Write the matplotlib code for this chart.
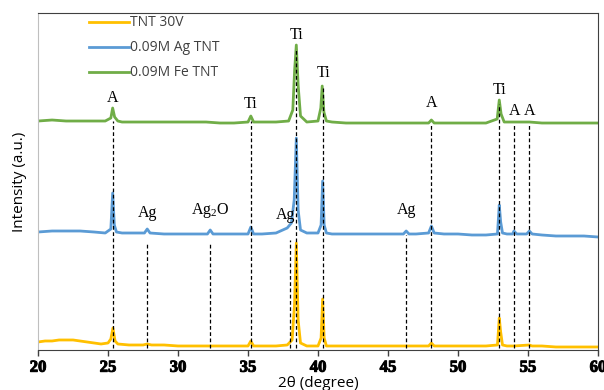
import numpy as np
import matplotlib.pyplot as plt
import matplotlib.patheffects as pe

plt.rcParams["mathtext.fontset"] = "custom"
plt.rcParams["mathtext.rm"] = "Liberation Serif"

# XRD patterns, stacked (a.u.)
tth_tnt = [20, 20.5, 21, 21.5, 22, 22.5, 23, 23.5, 24, 24.5, 25.0, 25.2, 25.35, 25.5, 25.7,
           26.5, 27.5, 27.8, 28.1, 29, 30, 31, 32, 33, 34, 35.0, 35.2, 35.4, 36, 37, 37.8,
           38.15, 38.32, 38.45, 38.58, 38.75, 39.2, 40.0, 40.22, 40.33, 40.44, 40.6, 41, 42, 43,
           44, 45, 46, 47, 47.9, 48.1, 48.3, 49, 50, 51, 52, 52.82, 52.95, 53.05, 53.18, 53.5,
           54, 55.1, 55.3, 56, 57, 58, 59, 60]
int_tnt = [8, 9, 9, 10, 10, 10, 9, 8, 7, 6, 7, 11, 22, 9, 6,
           5, 5, 6, 5, 5, 4, 4, 4, 4, 4, 4, 9, 4, 4, 4, 5,
           10, 45, 107, 30, 7, 4, 4, 12, 51, 12, 4, 4, 4, 4,
           4, 4, 4, 4, 4, 7, 4, 4, 4, 4, 4, 5, 32, 18, 5, 4,
           4, 5, 4, 4, 3, 3, 3, 3]

tth_ag = [20, 21, 22, 23, 24, 24.8, 25.2, 25.33, 25.45, 25.6, 26, 27, 27.6, 27.8, 28.0, 29,
          30, 31, 32.1, 32.3, 32.5, 33, 34, 35.0, 35.2, 35.4, 36, 37, 37.8, 38.1, 38.3,
          38.45, 38.58, 38.75, 39.2, 40.0, 40.22, 40.33, 40.44, 40.6, 41, 42, 43, 44, 45,
          46.1, 46.3, 46.5, 47, 47.9, 48.1, 48.3, 49, 50, 51, 52, 52.82, 52.95, 53.05, 53.18,
          53.5, 53.9, 54.0, 54.2, 54.9, 55.1, 55.3, 56, 57, 58, 59, 60]
int_ag = [118, 119, 119, 119, 118, 117, 121, 157, 125, 118, 117, 117, 117, 121, 117, 116,
          116, 116, 116, 120, 116, 116, 116, 116, 123, 116, 116, 117, 122, 127, 150,
          212, 140, 120, 117, 117, 125, 169, 125, 117, 116, 116, 116, 116, 116,
          116, 119, 116, 116, 117, 124, 117, 116, 116, 115, 115, 116, 145, 128, 117,
          116, 116, 119, 116, 116, 119, 116, 115, 114, 114, 114, 113]

tth_fe = [20, 21, 22, 23, 24, 24.8, 25.2, 25.33, 25.47, 25.7, 26, 27, 28, 29, 30, 31, 32,
          33, 34, 35.0, 35.2, 35.4, 36, 37, 37.9, 38.2, 38.33, 38.45, 38.58, 38.75, 39.2,
          40.0, 40.2, 40.3, 40.42, 40.6, 41, 42, 43, 44, 45, 46, 47, 47.9, 48.1, 48.3,
          49, 50, 51, 52, 52.8, 52.95, 53.08, 53.3, 54, 55.1, 56, 57, 58, 59, 60]
int_fe = [229, 230, 229, 229, 229, 229, 232, 242, 233, 229, 228, 228, 228, 228, 228, 228, 228,
          227, 227, 228, 234, 228, 228, 228, 229, 240, 280, 305, 265, 234, 228,
          229, 242, 264, 238, 229, 228, 227, 227, 227, 227, 227, 227, 227, 230, 227,
          227, 227, 227, 227, 231, 250, 236, 228, 228, 228, 227, 227, 227, 227, 227]

series = ["TNT 30V", "0.09M Ag TNT", "0.09M Fe TNT"]
colors = ["#FFC000", "#5B9BD5", "#70AD47"]

# reference lines: position, top of line, label, label height
ref_pos = [25.35, 27.8, 32.3, 35.2, 38.0, 38.45, 40.33, 46.3, 48.1, 52.95, 54.0, 55.1]
ref_top = [229, 108, 108, 229, 110, 300, 262, 115, 227, 246, 227, 227]
lbl_x = [25.35, 27.8, 32.3, 35.2, 37.65, 38.45, 40.4, 46.3, 48.1, 52.95, 54.05, 55.15]
lbl_y = [252, 137, 140, 246, 135, 315, 277, 140, 247, 260, 239, 239]
lbl_txt = ["A", "Ag", "Ag$_2$O", "Ti", "Ag", "Ti", "Ti", "Ag", "A", "Ti", "A", "A"]

fig = plt.figure(figsize=(6.04, 3.90), dpi=100)
ax = fig.add_axes([0.063, 0.1026, 0.927, 0.864])

for x, y, name, c in zip([tth_tnt, tth_ag, tth_fe], [int_tnt, int_ag, int_fe], series, colors):
    ax.plot(x, y, color=c, lw=2.0, label=name, solid_joinstyle="round")

ax.vlines(ref_pos, 2, ref_top, colors="black", linestyles=(0, (3, 2)), lw=0.9, zorder=3)
for x, y, t in zip(lbl_x, lbl_y, lbl_txt):
    ax.text(x, y, t, ha="center", va="center", fontsize=11.5, family="Liberation Serif",
            color="black")

ax.set_xlim(20, 60)
ax.set_ylim(0, 337)
xt = np.arange(20, 61, 5)
ax.set_xticks(xt, labels=[str(v) for v in xt], fontfamily="Liberation Serif",
              fontweight="bold", fontsize=12)
for lab in ax.get_xticklabels():
    lab.set_path_effects([pe.withStroke(linewidth=0.7, foreground="black")])
ax.set_yticks([])
ax.tick_params(axis="x", direction="out", length=4, width=1, color="#404040", pad=3)
ax.set_xlabel("2θ (degree)", fontsize=11, family="Open Sans", labelpad=0)
ax.set_ylabel("Intensity (a.u.)", fontsize=11, family="Open Sans", labelpad=8)

ax.spines["left"].set_color("#bfbfbf")
for s in ["top", "right", "bottom"]:
    ax.spines[s].set_color("#404040")

leg = ax.legend(loc="upper left", bbox_to_anchor=(0.068, 1.03), frameon=False,
                handlelength=2.9, handletextpad=0.05, labelspacing=0.72,
                prop={"family": "Open Sans", "size": 10})
for t in leg.get_texts():
    t.set_color("#404040")

fig.savefig("out.png", dpi=100)
